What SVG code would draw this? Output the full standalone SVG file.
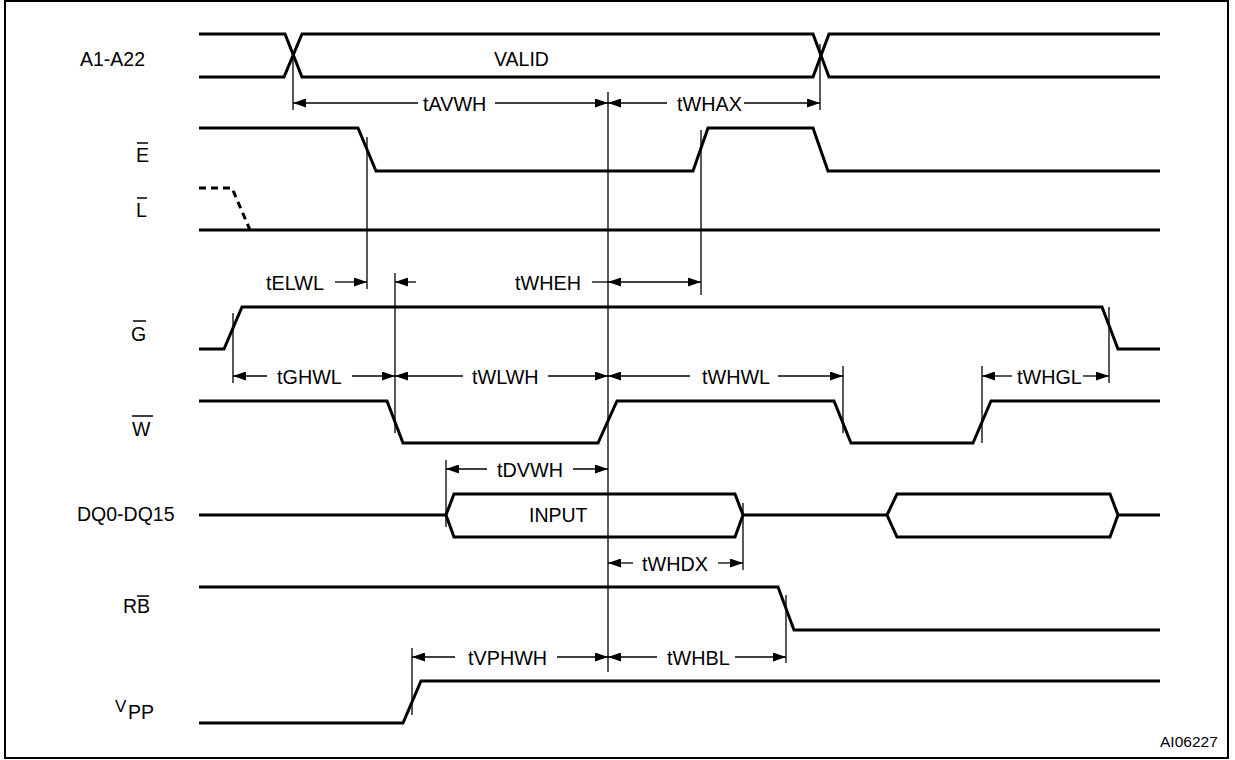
<svg xmlns="http://www.w3.org/2000/svg" width="1235" height="760" viewBox="0 0 1235 760">
<defs>
<marker id="ah" markerUnits="userSpaceOnUse" markerWidth="13" markerHeight="9" refX="13" refY="4.5" orient="auto-start-reverse">
<path d="M0,0 L13,4.5 L0,9 z" fill="#000"/>
</marker>
<style>
.sig{fill:none;stroke:#000;stroke-width:3;stroke-linejoin:miter}
.dash{fill:none;stroke:#000;stroke-width:3;stroke-dasharray:7,5}
.ref{fill:none;stroke:#000;stroke-width:1.3}
.dim{fill:none;stroke:#000;stroke-width:1.3}
.lbl{font-family:"Liberation Sans",Arial,sans-serif;font-size:19.5px;fill:#000}
.tl{font-family:"Liberation Sans",Arial,sans-serif;font-size:19.8px;fill:#000}
.ov{stroke:#000;stroke-width:1.5}
</style>
</defs>
<rect x="5" y="1" width="1223" height="757" fill="#fff" stroke="#000" stroke-width="2"/>

<g id="labels">
<text class="lbl" x="80" y="66">A1-A22</text>
<g id="lbl-E"><text class="lbl" x="136" y="162">E</text><line class="ov" x1="137" y1="143" x2="148" y2="143"/></g>
<g id="lbl-L"><text class="lbl" x="136" y="217">L</text><line class="ov" x1="137" y1="198" x2="147" y2="198"/></g>
<g id="lbl-G"><text class="lbl" x="131" y="341">G</text><line class="ov" x1="133" y1="321" x2="146" y2="321"/></g>
<g id="lbl-W"><text class="lbl" x="132" y="436">W</text><line class="ov" x1="132" y1="416" x2="153" y2="416"/></g>
<text class="lbl" x="77" y="521">DQ0-DQ15</text>
<g id="lbl-RB"><text class="lbl" x="123" y="613">RB</text><line class="ov" x1="137" y1="596" x2="149" y2="596"/></g>
<g id="lbl-VPP"><text class="lbl" x="115" y="712" style="font-size:17px">V</text><text class="lbl" x="128" y="719">PP</text></g>
</g>

<g id="sig-A">
<path class="sig" d="M199,34 H285 L302,77 H813 L829,34 H1160"/>
<path class="sig" d="M199,77 H284 L302,34 H813 L829,77 H1160"/>
<text class="lbl" x="494" y="66">VALID</text>
</g>
<g id="sig-E"><path class="sig" d="M199,128 H358 L376,171 H693 L708,128 H813 L828,171 H1160"/></g>
<g id="sig-L">
<path class="dash" d="M199,188 H232 L250,230"/>
<path class="sig" d="M199,230 H1160"/>
</g>
<g id="sig-G"><path class="sig" d="M199,349 H224 L242,307 H1102 L1118,349 H1160"/></g>
<g id="sig-W"><path class="sig" d="M199,401 H387 L403,443 H598 L617,401 H834 L851,443 H973 L991,401 H1160"/></g>
<g id="sig-DQ">
<path class="sig" d="M199,515 H446"/>
<polygon class="sig" points="446,515 454,494 735,494 743,515 735,537 454,537"/>
<path class="sig" d="M743,515 H887"/>
<polygon class="sig" points="887,515 897,494 1110,494 1118,515 1110,537 897,537"/>
<path class="sig" d="M1118,515 H1160"/>
<text class="lbl" x="529" y="522">INPUT</text>
</g>
<g id="sig-RB"><path class="sig" d="M199,587 H778 L794,630 H1160"/></g>
<g id="sig-VPP"><path class="sig" d="M199,723 H403 L421,681 H1160"/></g>

<g id="connectors">
<line class="ref" x1="293" y1="55" x2="293" y2="110"/>
<line class="ref" x1="820" y1="44" x2="820" y2="110"/>
<line class="ref" x1="608" y1="92" x2="608" y2="672"/>
<line class="ref" x1="367" y1="137" x2="367" y2="289"/>
<line class="ref" x1="701" y1="130" x2="701" y2="295"/>
<line class="ref" x1="395" y1="273" x2="395" y2="433"/>
<line class="ref" x1="233" y1="313" x2="233" y2="383"/>
<line class="ref" x1="1109" y1="307" x2="1109" y2="383"/>
<line class="ref" x1="843" y1="366" x2="843" y2="433"/>
<line class="ref" x1="982" y1="366" x2="982" y2="443"/>
<line class="ref" x1="446" y1="460" x2="446" y2="527"/>
<line class="ref" x1="743" y1="503" x2="743" y2="570"/>
<line class="ref" x1="786" y1="595" x2="786" y2="663"/>
<line class="ref" x1="412" y1="648" x2="412" y2="715"/>

<!-- tAVWH -->
<line class="dim" x1="418" y1="103" x2="293" y2="103" marker-end="url(#ah)"/>
<line class="dim" x1="495" y1="103" x2="608" y2="103" marker-end="url(#ah)"/>
<!-- tWHAX -->
<line class="dim" x1="667" y1="103" x2="608" y2="103" marker-end="url(#ah)"/>
<line class="dim" x1="744" y1="103" x2="820" y2="103" marker-end="url(#ah)"/>
<!-- tELWL -->
<line class="dim" x1="335" y1="282" x2="367" y2="282" marker-end="url(#ah)"/>
<line class="dim" x1="416" y1="282" x2="395" y2="282" marker-end="url(#ah)"/>
<!-- tWHEH -->
<line class="dim" x1="592" y1="282" x2="608" y2="282"/>
<line class="dim" x1="608" y1="282" x2="701" y2="282" marker-start="url(#ah)" marker-end="url(#ah)"/>
<!-- tGHWL -->
<line class="dim" x1="267" y1="376" x2="233" y2="376" marker-end="url(#ah)"/>
<line class="dim" x1="352" y1="376" x2="395" y2="376" marker-end="url(#ah)"/>
<!-- tWLWH -->
<line class="dim" x1="463" y1="376" x2="395" y2="376" marker-end="url(#ah)"/>
<line class="dim" x1="548" y1="376" x2="608" y2="376" marker-end="url(#ah)"/>
<!-- tWHWL -->
<line class="dim" x1="690" y1="376" x2="608" y2="376" marker-end="url(#ah)"/>
<line class="dim" x1="778" y1="376" x2="843" y2="376" marker-end="url(#ah)"/>
<!-- tWHGL -->
<line class="dim" x1="1012" y1="376" x2="982" y2="376" marker-end="url(#ah)"/>
<line class="dim" x1="1083" y1="376" x2="1109" y2="376" marker-end="url(#ah)"/>
<!-- tDVWH -->
<line class="dim" x1="487" y1="469" x2="446" y2="469" marker-end="url(#ah)"/>
<line class="dim" x1="573" y1="469" x2="608" y2="469" marker-end="url(#ah)"/>
<!-- tWHDX -->
<line class="dim" x1="633" y1="563" x2="608" y2="563" marker-end="url(#ah)"/>
<line class="dim" x1="718" y1="563" x2="743" y2="563" marker-end="url(#ah)"/>
<!-- tVPHWH -->
<line class="dim" x1="455" y1="657" x2="412" y2="657" marker-end="url(#ah)"/>
<line class="dim" x1="557" y1="657" x2="608" y2="657" marker-end="url(#ah)"/>
<!-- tWHBL -->
<line class="dim" x1="657" y1="657" x2="608" y2="657" marker-end="url(#ah)"/>
<line class="dim" x1="735" y1="657" x2="786" y2="657" marker-end="url(#ah)"/>
</g>

<g id="timing-labels">
<text class="tl" x="423" y="111">tAVWH</text>
<text class="tl" x="677" y="111">tWHAX</text>
<text class="tl" x="266" y="290">tELWL</text>
<text class="tl" x="515" y="290">tWHEH</text>
<text class="tl" x="277" y="384">tGHWL</text>
<text class="tl" x="472" y="384">tWLWH</text>
<text class="tl" x="702" y="384">tWHWL</text>
<text class="tl" x="1017" y="384">tWHGL</text>
<text class="tl" x="497" y="477">tDVWH</text>
<text class="tl" x="642" y="571">tWHDX</text>
<text class="tl" x="468" y="665">tVPHWH</text>
<text class="tl" x="667" y="665">tWHBL</text>
</g>
<text x="1160" y="747" style="font-family:'Liberation Sans',Arial,sans-serif;font-size:15.5px">AI06227</text>
</svg>
